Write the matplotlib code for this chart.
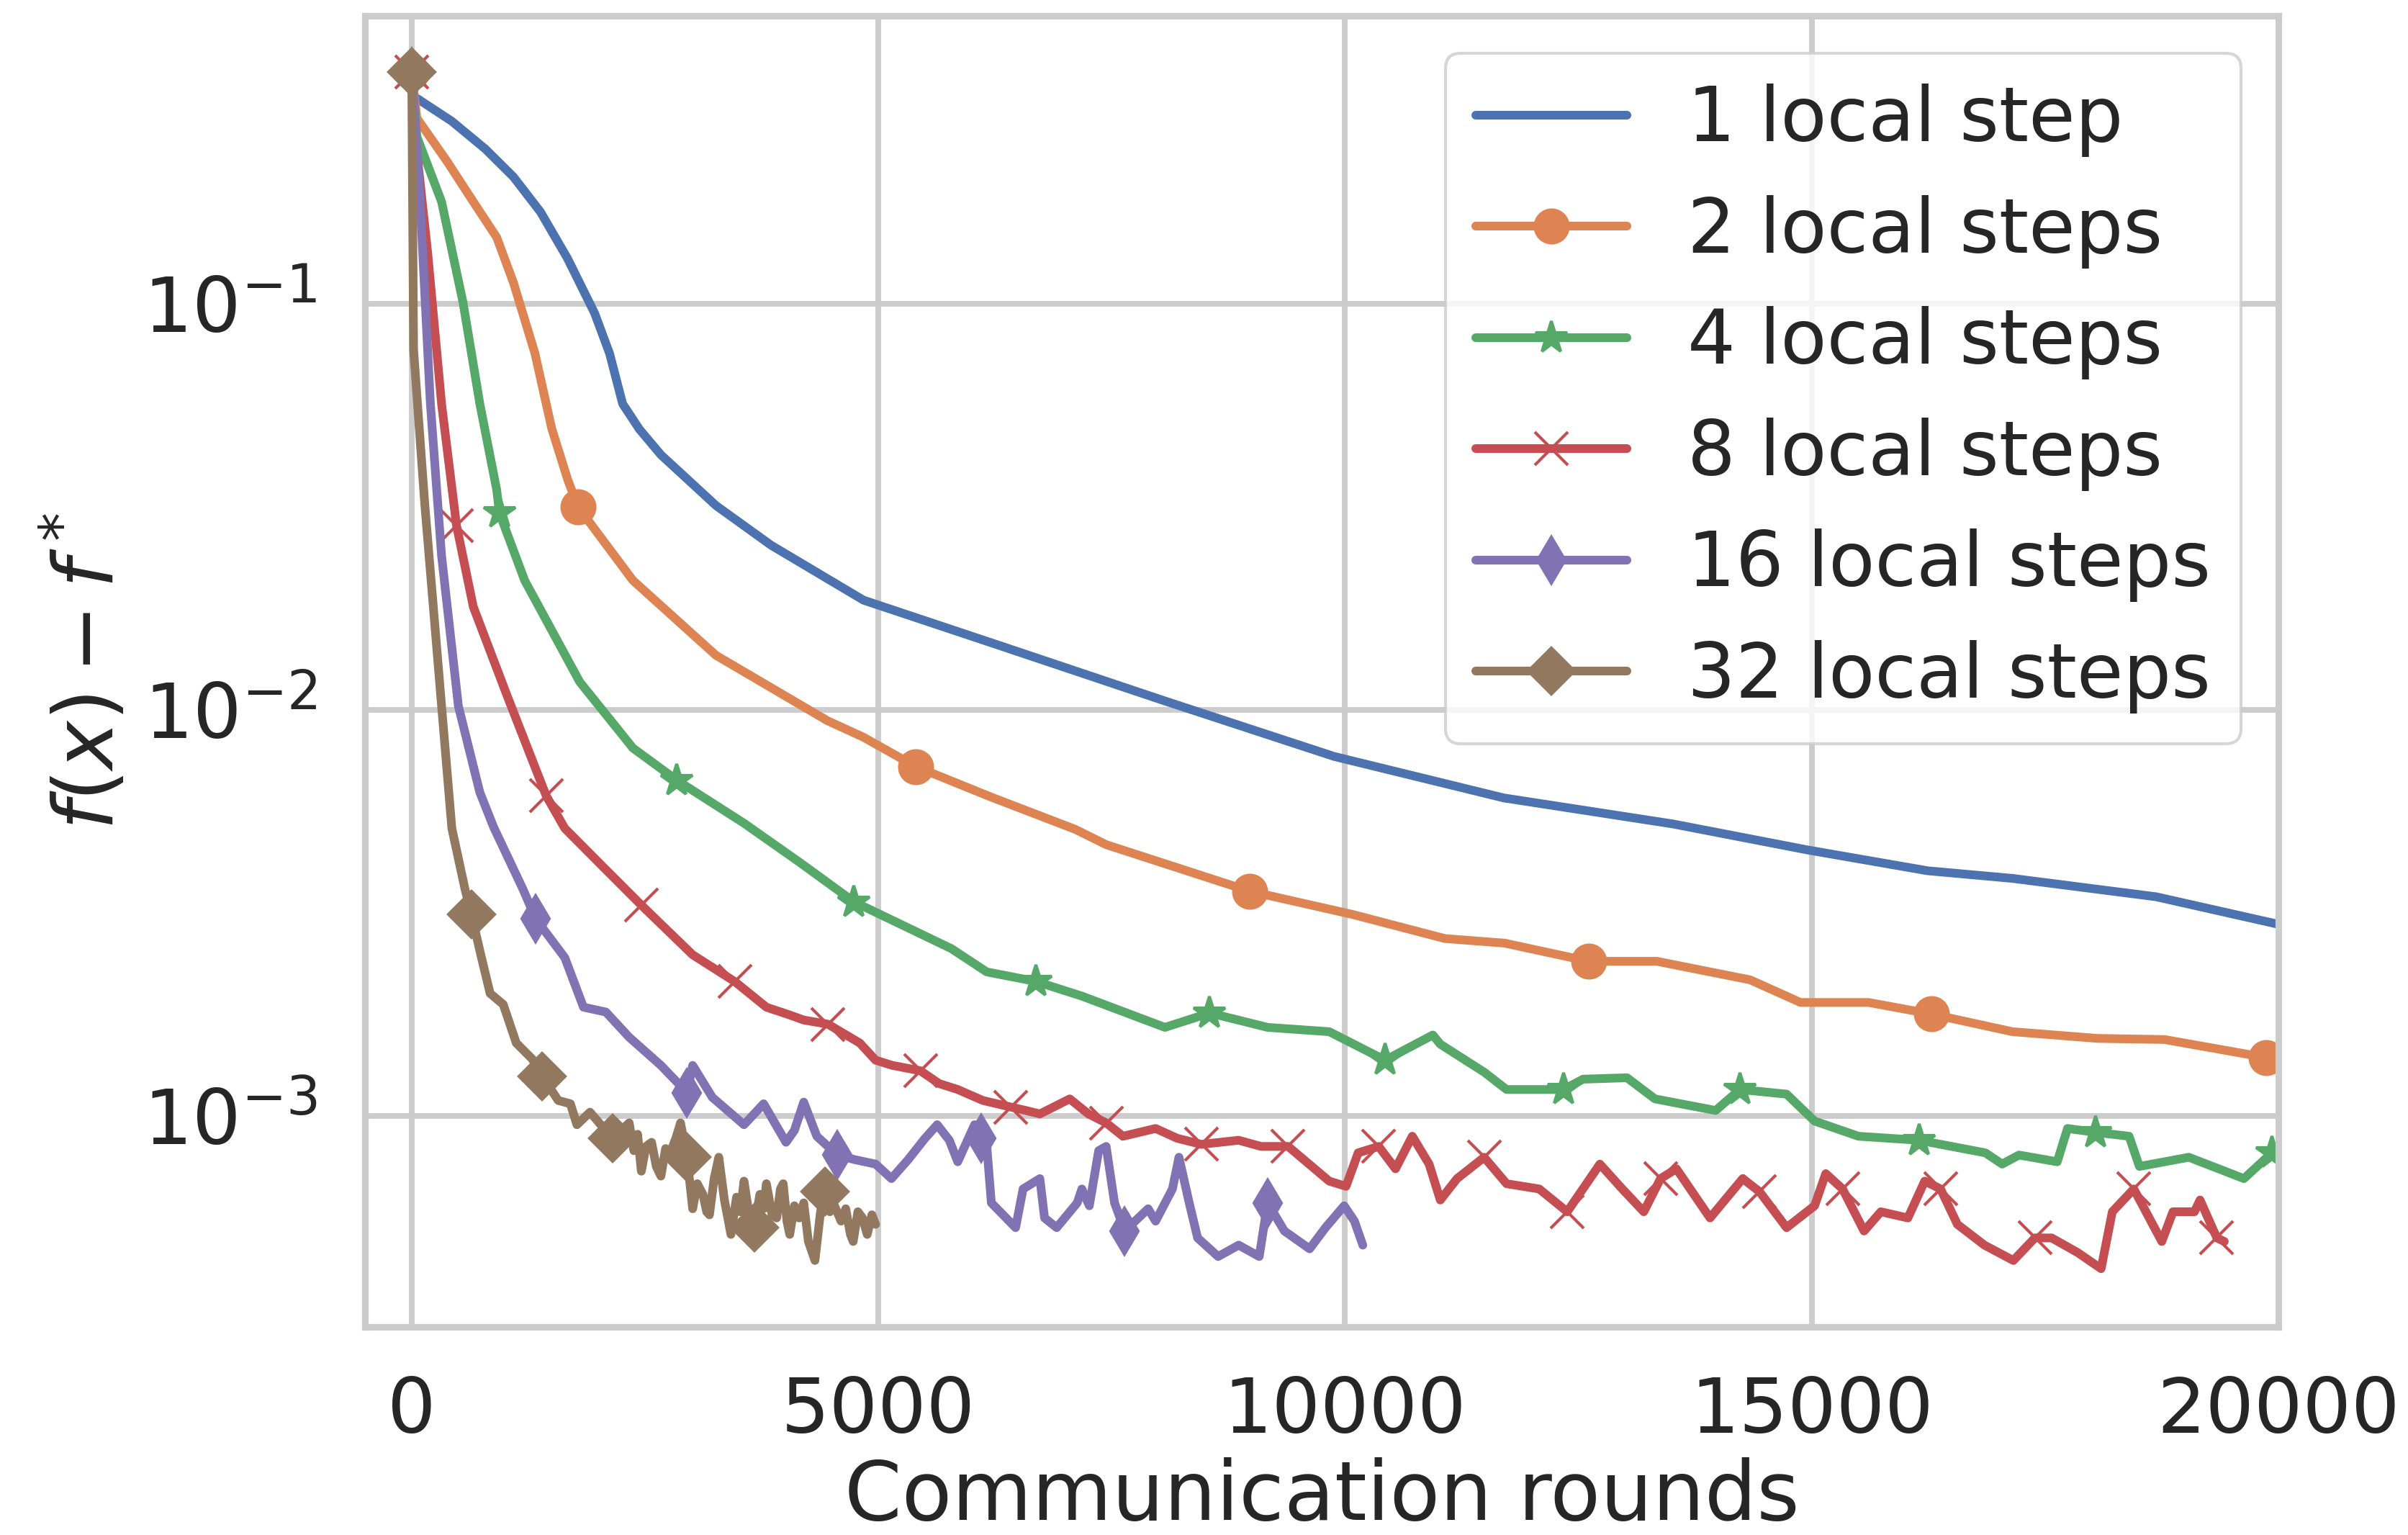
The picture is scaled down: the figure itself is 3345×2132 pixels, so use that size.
import numpy as np
import matplotlib
matplotlib.use("Agg")
import matplotlib.pyplot as plt
import seaborn as sns

# communication rounds / suboptimality f(x) - f*
rounds_1 = [0, 20, 430, 790, 1090, 1380, 1670, 1960, 2120, 2260, 2440, 2670, 3260, 3850,
            4840, 6290, 8070, 9880, 11700, 13510, 14960, 16240, 17150, 18690, 20000]
loss_1 = [0.372, 0.324, 0.281, 0.24, 0.205, 0.168, 0.129, 0.0946, 0.0753, 0.0566, 0.049,
          0.0424, 0.0318, 0.0254, 0.0186, 0.0144, 0.0105, 0.00767, 0.00606, 0.00523,
          0.00451, 0.00401, 0.00384, 0.00346, 0.00296]

rounds_2 = [0, 55, 380, 660, 910, 1090, 1320, 1500, 1670, 1780, 2370, 3260, 4450, 4840,
            5400, 6200, 7110, 7440, 8980, 10080, 11070, 11710, 12610, 13340, 14340, 14880,
            15610, 16280, 17150, 18060, 18780, 19870, 20000]
loss_2 = [0.372, 0.286, 0.2236, 0.178, 0.1456, 0.1125, 0.0754, 0.0492, 0.0369, 0.0316,
          0.0208, 0.0136, 0.0094, 0.00855, 0.00724, 0.0061, 0.00507, 0.00465, 0.00357,
          0.00313, 0.00273, 0.00266, 0.0024, 0.0024, 0.00216, 0.0019, 0.0019, 0.00178,
          0.00161, 0.00155, 0.00154, 0.00139, 0.00137]
marks_2 = [0, 1780, 5400, 8980, 12610, 16280, 19870]

rounds_4 = [0, 55, 320, 550, 730, 910, 940, 1210, 1800, 2370, 2840, 3560, 4160, 4740, 5780,
            6160, 6690, 7180, 8070, 8550, 9170, 9830, 10430, 10940, 11020, 11490, 11730,
            12340, 12550, 13020, 13320, 13970, 14230, 14730, 15030, 15500, 16150, 16860,
            17040, 17220, 17630, 17740, 18040, 18400, 18510, 19040, 19630, 19930, 20000]
loss_4 = [0.372, 0.2575, 0.178, 0.1005, 0.0566, 0.0348, 0.0305, 0.0208, 0.0117, 0.00804,
          0.0067, 0.00525, 0.0042, 0.00336, 0.00258, 0.00226, 0.00214, 0.00197, 0.00165,
          0.00179, 0.00165, 0.00161, 0.00137, 0.00158, 0.0015, 0.00128, 0.00116, 0.00116,
          0.00123, 0.00124, 0.0011, 0.00103, 0.00116, 0.00113, 0.00097, 0.00089, 0.00087,
          0.00081, 0.00076, 0.0008, 0.00077, 0.00093, 0.00091, 0.00089, 0.00075, 0.00079,
          0.0007, 0.00081, 0.00078]
marks_4 = [0, 940, 2840, 4740, 6690, 8550, 10430, 12340, 14230, 16150, 18040, 19930]

rounds_8 = [0, 55, 170, 320, 480, 660, 1030, 1440, 1640, 2050, 2460, 3010, 3460, 3800, 4050,
            4200, 4460, 4800, 4970, 5150, 5450, 5650, 5850, 6120, 6420, 6580, 6730, 7050,
            7250, 7440, 7620, 7970, 8200, 8460, 8860, 9100, 9390, 9830, 10010, 10140, 10360,
            10540, 10720, 10900, 11020, 11200, 11490, 11730, 12080, 12380, 12730, 12970,
            13200, 13380, 13550, 13910, 14260, 14440, 14730, 15030, 15150, 15330, 15560,
            15740, 16030, 16210, 16380, 16560, 16850, 17160, 17390, 17570, 17850, 18100,
            18220, 18450, 18750, 18870, 19100, 19160, 19340, 19420]
loss_8 = [0.372, 0.236, 0.134, 0.0566, 0.0284, 0.0179, 0.0107, 0.00614, 0.0051, 0.0041,
          0.0033, 0.00249, 0.00214, 0.00185, 0.00177, 0.00172, 0.00168, 0.00151, 0.00137,
          0.00133, 0.00129, 0.0012, 0.00116, 0.00109, 0.00105, 0.00103, 0.00101, 0.0011,
          0.00101, 0.00096, 0.00089, 0.00093, 0.00088, 0.00085, 0.00087, 0.00084, 0.00084,
          0.00069, 0.00067, 0.00081, 0.00084, 0.00074, 0.00089, 0.00076, 0.00062, 0.0007,
          0.00079, 0.00068, 0.00066, 0.00058, 0.00076, 0.00066, 0.00058, 0.0007, 0.00074,
          0.00056, 0.0007, 0.00065, 0.00053, 0.0006, 0.00072, 0.00066, 0.00052, 0.00058,
          0.00056, 0.00069, 0.00066, 0.00054, 0.00048, 0.00044, 0.0005, 0.0005, 0.00046,
          0.00042, 0.00058, 0.00066, 0.00049, 0.00058, 0.00058, 0.00062, 0.0005, 0.00049]
marks_8 = [0, 480, 1440, 2460, 3460, 4460, 5450, 6420, 7440, 8460, 9390, 10360, 11490,
           12380, 13380, 14440, 15330, 16380, 17390, 18450, 19340]

rounds_16 = [0, 90, 200, 320, 500, 730, 880, 1190, 1330, 1640, 1840, 2080, 2330, 2670, 2950,
             3010, 3220, 3560, 3770, 4010, 4100, 4200, 4340, 4560, 4740, 4970, 5140, 5320,
             5500, 5630, 5760, 5850, 6030, 6100, 6160, 6210, 6470, 6550, 6730, 6780, 6910,
             7130, 7180, 7260, 7360, 7440, 7530, 7640, 7750, 7890, 7970, 8150, 8220, 8330,
             8420, 8640, 8860, 9080, 9170, 9350, 9620, 9790, 9990, 10100, 10190]
loss_16 = [0.372, 0.178, 0.0566, 0.0239, 0.0102, 0.00625, 0.00512, 0.00362, 0.00305,
           0.00245, 0.00185, 0.0018, 0.00156, 0.00133, 0.00114, 0.00133, 0.00111, 0.00095,
           0.00107, 0.00086, 0.00092, 0.00108, 0.00089, 0.0008, 0.00078, 0.00076, 0.0007,
           0.00078, 0.00088, 0.00095, 0.00087, 0.00077, 0.00095, 0.00088, 0.00085, 0.00061,
           0.00053, 0.00066, 0.0007, 0.00056, 0.00053, 0.00061, 0.00066, 0.0006, 0.00082,
           0.00084, 0.00061, 0.00052, 0.00055, 0.00059, 0.00055, 0.00066, 0.00079, 0.00061,
           0.0005, 0.00045, 0.00048, 0.00045, 0.00061, 0.00052, 0.00047, 0.00053, 0.0006,
           0.00055, 0.00048]
marks_16 = [0, 1330, 2950, 4560, 6100, 7640, 9170]

rounds_32 = [0, 20, 140, 320, 430, 570, 640, 740, 840, 980, 1120, 1290, 1400, 1570, 1700,
             1770, 1910, 2150, 2330, 2380, 2420, 2460, 2510, 2570, 2620, 2670, 2720, 2770,
             2830, 2880, 2950, 3010, 3060, 3120, 3160, 3190, 3240, 3290, 3350, 3420, 3480,
             3520, 3560, 3620, 3670, 3730, 3770, 3800, 3860, 3910, 3950, 3980, 4020, 4050,
             4100, 4150, 4200, 4250, 4320, 4380, 4430, 4480, 4530, 4600, 4650, 4700, 4730,
             4780, 4830, 4880, 4930, 4970]
loss_32 = [0.372, 0.077, 0.032, 0.0102, 0.0051, 0.00362, 0.00313, 0.00249, 0.002, 0.00188,
           0.00151, 0.00138, 0.00125, 0.00109, 0.00107, 0.00095, 0.00102, 0.00088, 0.00096,
           0.00082, 0.0009, 0.00073, 0.00084, 0.00086, 0.00075, 0.00071, 0.00083, 0.00081,
           0.00088, 0.00096, 0.00079, 0.00059, 0.00068, 0.00064, 0.00058, 0.00057, 0.0007,
           0.00079, 0.00062, 0.00051, 0.00063, 0.00058, 0.00069, 0.00056, 0.00053, 0.00064,
           0.00059, 0.00068, 0.00057, 0.00056, 0.00066, 0.00068, 0.00055, 0.00051, 0.0006,
           0.00056, 0.00061, 0.00049, 0.00044, 0.00058, 0.00065, 0.00058, 0.0006, 0.00055,
           0.00059, 0.00051, 0.00049, 0.00058, 0.00056, 0.00051, 0.00057, 0.00054]
marks_32 = [0, 640, 1400, 2150, 2950, 3670, 4430]

labels = ["1 local step", "2 local steps", "4 local steps", "8 local steps",
          "16 local steps", "32 local steps"]

sns.set_theme(style="whitegrid", palette="deep")
plt.rcParams['font.family'] = ['DejaVu Sans']
plt.rcParams['text.color'] = '.15'
plt.rcParams['axes.labelcolor'] = '.15'
plt.rcParams['xtick.color'] = '.15'
plt.rcParams['ytick.color'] = '.15'

tick_fs = 25.5
label_fs = 27.4
legend_fs = 25.2
colors = sns.color_palette("deep")

fig = plt.figure(figsize=(11.15, 7.1067), dpi=300)
ax = fig.add_axes([0.1516, 0.1356, 0.9462 - 0.1516, 0.9897 - 0.1356])

series = [
    (rounds_1, loss_1, None, None),
    (rounds_2, loss_2, "o", marks_2),
    (rounds_4, loss_4, "*", marks_4),
    (rounds_8, loss_8, "x", marks_8),
    (rounds_16, loss_16, "d", marks_16),
    (rounds_32, loss_32, "D", marks_32),
]

for i, (x, y, m, marks) in enumerate(series):
    x = np.array(x)
    if marks is None:
        ax.plot(x, y, color=colors[i], lw=2.9, label=labels[i])
    else:
        # put the markers on the data points nearest the marked rounds
        idx = [int(np.argmin(np.abs(x - k))) for k in marks]
        ax.plot(x, y, color=colors[i], lw=2.9, marker=m, markersize=11,
                markevery=idx, markeredgewidth=1.0, label=labels[i])

ax.set_yscale("log")
ax.set_xlim(-500, 20000)
ax.set_ylim(3.02e-4, 0.511)
ax.set_xticks([0, 5000, 10000, 15000, 20000])

for s in ax.spines.values():
    s.set_color('.8')
    s.set_linewidth(2.2)
ax.grid(True, which='major', color='.8', lw=1.9)
ax.grid(False, which='minor')
ax.tick_params(axis='both', which='both', length=0, labelsize=tick_fs, pad=16)

ax.set_xlabel("Communication rounds", fontsize=label_fs, labelpad=3)
ax.set_ylabel(r"$f(x) - f^*$", fontsize=label_fs)

ax.legend(loc="upper right", fontsize=legend_fs)

fig.savefig("out.png", dpi=300)
